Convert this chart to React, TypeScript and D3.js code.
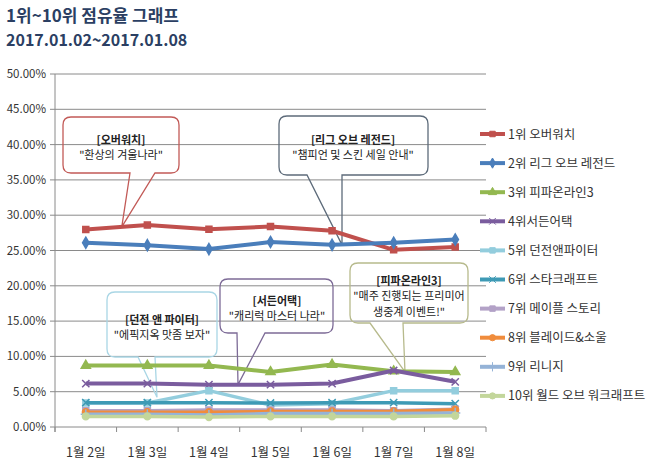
import React from "react";
import * as d3 from "d3";

const days = ["1월 2일", "1월 3일", "1월 4일", "1월 5일", "1월 6일", "1월 7일", "1월 8일"];
const yTicks = [0, 0.05, 0.1, 0.15, 0.2, 0.25, 0.3, 0.35, 0.4, 0.45, 0.5];

const names = [
  "1위 오버워치",
  "2위 리그 오브 레전드",
  "3위 피파온라인3",
  "4위서든어택",
  "5위 던전앤파이터",
  "6위 스타크래프트",
  "7위 메이플 스토리",
  "8위 블레이드&소울",
  "9위 리니지",
  "10위  월드 오브 워크래프트",
];

const s1 = [0.2797, 0.286, 0.28, 0.284, 0.278, 0.251, 0.255];
const s2 = [0.261, 0.2575, 0.252, 0.262, 0.258, 0.261, 0.2655];
const s3 = [0.087, 0.087, 0.087, 0.078, 0.0885, 0.079, 0.078];
const s4 = [0.0615, 0.0615, 0.06, 0.06, 0.0615, 0.08, 0.064];
const s5 = [0.034, 0.034, 0.0515, 0.031, 0.033, 0.0515, 0.0515];
const s6 = [0.0345, 0.0345, 0.0345, 0.034, 0.0345, 0.0345, 0.033];
const s7 = [0.023, 0.023, 0.024, 0.024, 0.024, 0.023, 0.025];
const s8 = [0.021, 0.021, 0.021, 0.022, 0.022, 0.022, 0.0245];
const s9 = [0.018, 0.018, 0.017, 0.019, 0.019, 0.019, 0.02];
const s10 = [0.015, 0.015, 0.014, 0.015, 0.015, 0.015, 0.016];
const seriesValues = [s1, s2, s3, s4, s5, s6, s7, s8, s9, s10];

const colors = ["#c0504d", "#4a7ebb", "#93b850", "#7a5c9e", "#93cddd", "#3e9ab5", "#b3a2c7", "#f08c3c", "#95b3d7", "#c3d69b"];
const symbols = [d3.symbolSquare, d3.symbolDiamond, d3.symbolTriangle, d3.symbolTimes, d3.symbolSquare, d3.symbolTimes, d3.symbolSquare, d3.symbolCircle, d3.symbolPlus, d3.symbolCircle];

const calloutTitles = ["[오버워치]", "[리그 오브 레전드]", "[던전 앤 파이터]", "[서든어택]", "[피파온라인3]"];
const calloutBodies = [["\"환상의 겨울나라\""], ["\"챔피언 및 스킨 세일 안내\""], ["\"에픽지옥 맛좀 보자\""], ["\"캐리럭 마스터 나라\""], ["\"매주 진행되는 프리미어", "생중계 이벤트!\""]];

const FONT = "'Noto Sans CJK KR', 'Noto Sans', sans-serif";

export default function App() {
  const left = 55, right = 486, top = 74, bottom = 427;
  const x = d3.scaleBand<string>().domain(days).range([left, right]).padding(0);
  const y = d3.scaleLinear().domain([0, 0.5]).range([bottom, top]);
  const cx = (i: number) => (x(days[i]) as number) + x.bandwidth() / 2;
  const line = d3.line<number>().x((_, i) => cx(i)).y((v) => y(v));

  const callouts = [
    { box: [63, 117, 116, 56], base: [130, 155], tip: [cx(0) + 36, y(0.2835)], color: "#c25a57" },
    { box: [279, 116, 149, 59], base: [307, 342], tip: [342, y(0.258)], color: "#5d6b7a" },
    { box: [107, 292, 110, 65], base: [138, 155], tip: [157, y(0.042)], color: "#a9d6e5" },
    { box: [220, 279, 113, 54], base: [237, 265], tip: [238, y(0.06)], color: "#7d6b97" },
    { box: [350, 263, 118, 60], base: [370, 403], tip: [405, y(0.078)], color: "#b7ba8c" },
  ];
  const textPos = [
    { cx: 121, ys: [144, 159] },
    { cx: 353, ys: [144, 159] },
    { cx: 162, ys: [324, 339] },
    { cx: 277, ys: [305, 320] },
    { cx: 409, ys: [285, 300, 316] },
  ];

  const calloutPath = (c: any) => {
    const [bx, by, bw, bh] = c.box;
    const r = 8;
    const p = d3.path();
    const yb = by + bh;
    p.moveTo(bx + r, by);
    p.lineTo(bx + bw - r, by);
    p.quadraticCurveTo(bx + bw, by, bx + bw, by + r);
    p.lineTo(bx + bw, yb - r);
    p.quadraticCurveTo(bx + bw, yb, bx + bw - r, yb);
    p.lineTo(c.base[1], yb);
    p.lineTo(c.tip[0], c.tip[1]);
    p.lineTo(c.base[0], yb);
    p.lineTo(bx + r, yb);
    p.quadraticCurveTo(bx, yb, bx, yb - r);
    p.lineTo(bx, by + r);
    p.quadraticCurveTo(bx, by, bx + r, by);
    p.closePath();
    return p.toString();
  };

  const legendY = (i: number) => 134 + i * 29.1;

  return (
    <svg width={650} height={476} style={{ position: "absolute", left: 0, top: 0, background: "#fff" }} fontFamily={FONT}>
      <rect width={650} height={476} fill="#fff" />
      <text x={6} y={22} fontSize={17} fontWeight="bold" fill="#2b3f63">1위~10위 점유율 그래프</text>
      <text x={6} y={46} fontSize={16} fontWeight="bold" fill="#2b3f63">2017.01.02~2017.01.08</text>

      {yTicks.map((t) => (
        <g key={t}>
          <line x1={left - 5} x2={right} y1={y(t)} y2={y(t)} stroke="#8a8a8a" strokeWidth={1} />
          <text x={46} y={y(t) + 4} fontSize={11.5} textAnchor="end" fill="#333">{(t * 100).toFixed(2)}%</text>
        </g>
      ))}
      <line x1={left} x2={left} y1={top} y2={bottom + 5} stroke="#8a8a8a" />
      {d3.range(days.length + 1).map((i) => {
        const xx = i < days.length ? (x(days[i]) as number) : right;
        return <line key={i} x1={xx} x2={xx} y1={bottom} y2={bottom + 5} stroke="#8a8a8a" />;
      })}
      {days.map((d, i) => (
        <text key={d} x={cx(i)} y={457} fontSize={12.5} textAnchor="middle" fill="#333">{d}</text>
      ))}

      {callouts.map((c, i) => (
        <path key={"c" + i} d={calloutPath(c)} fill="none" stroke={c.color} strokeWidth={1.3} />
      ))}

      {seriesValues.map((vals, si) => (
        <g key={si}>
          <path d={line(vals) as string} fill="none" stroke={colors[si]} strokeWidth={si < 4 ? 4 : 3.5} strokeLinejoin="round" />
          {vals.map((v, i) => (
            <path key={i} transform={`translate(${cx(i)},${y(v)})`} d={d3.symbol().type(symbols[si]).size(36)() as string}
              fill={colors[si]} stroke={colors[si]} strokeWidth={1.5} />
          ))}
        </g>
      ))}

      {textPos.map((t, i) => (
        <g key={"t" + i} fontSize={11} textAnchor="middle" fill="#222">
          <text x={t.cx} y={t.ys[0]} fontWeight="bold">{calloutTitles[i]}</text>
          {calloutBodies[i].map((b, j) => (
            <text key={j} x={t.cx} y={t.ys[j + 1]}>{b}</text>
          ))}
        </g>
      ))}

      {names.map((n, i) => (
        <g key={n}>
          <line x1={480} x2={505} y1={legendY(i)} y2={legendY(i)} stroke={colors[i]} strokeWidth={4} />
          <path transform={`translate(492.5,${legendY(i)})`} d={d3.symbol().type(symbols[i]).size(30)() as string} fill={colors[i]} stroke={colors[i]} />
          <text x={508} y={legendY(i) + 4.5} fontSize={12.5} fill="#333">{n}</text>
        </g>
      ))}
    </svg>
  );
}
